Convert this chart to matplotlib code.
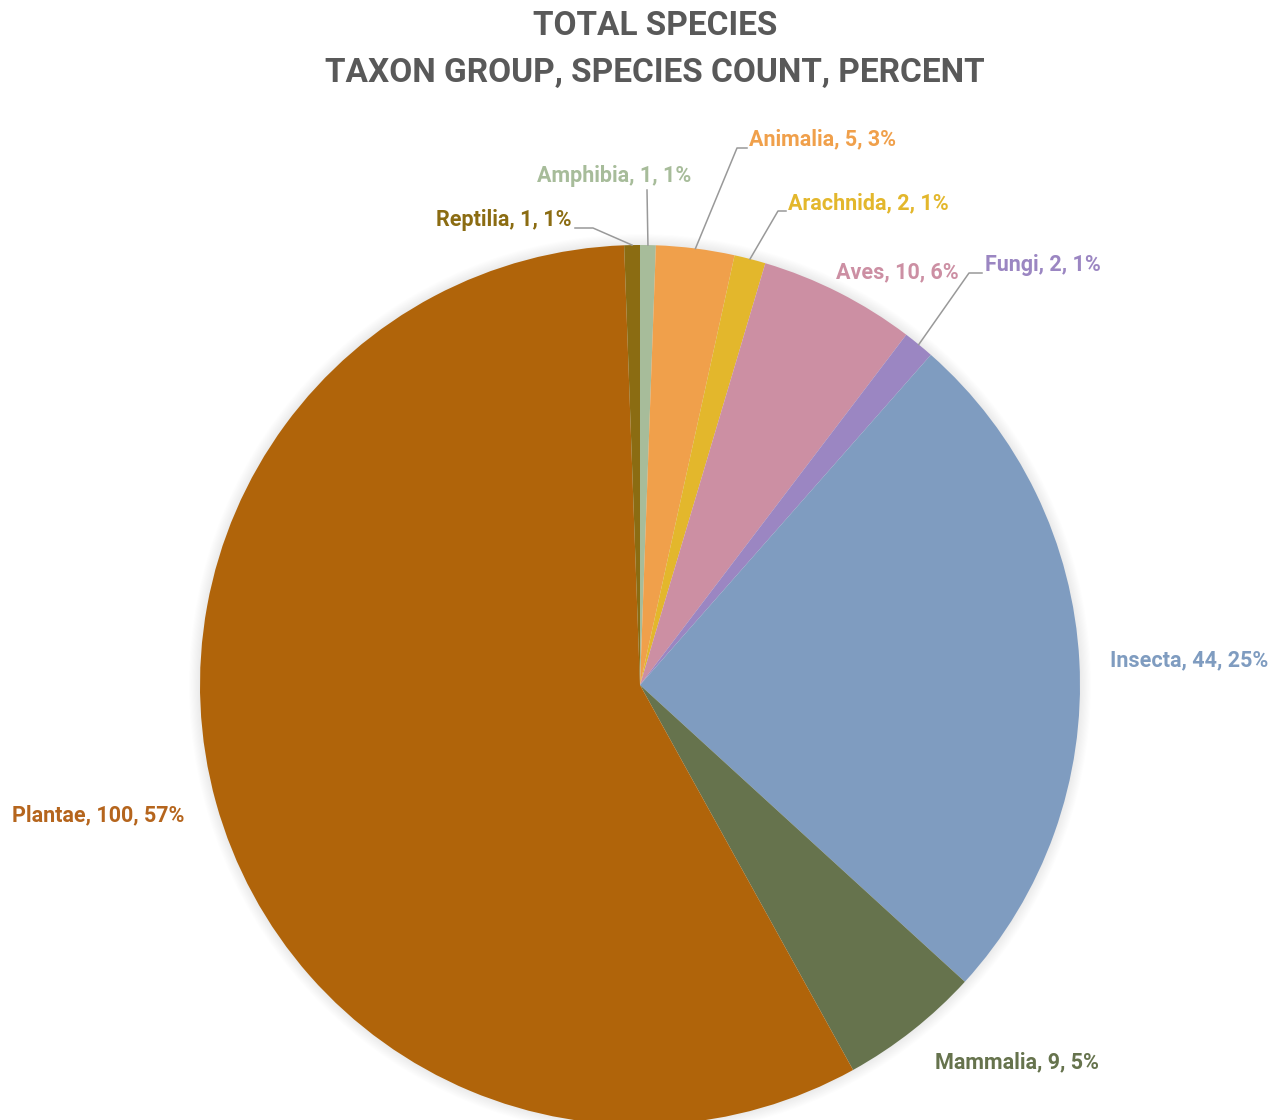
import matplotlib
matplotlib.use("Agg")
import matplotlib.pyplot as plt
import numpy as np
from matplotlib.patches import Circle

# slices in drawing order (clockwise from 12 o'clock)
taxa = ["Amphibia", "Animalia", "Arachnida", "Aves", "Fungi",
        "Insecta", "Mammalia", "Plantae", "Reptilia"]
counts = [1, 5, 2, 10, 2, 44, 9, 100, 1]
colors = ["#a7bc9a", "#f0a04b", "#e3b72c", "#cc8fa3", "#9b86c2",
          "#7f9cc0", "#66734d", "#b0640a", "#8b6c12"]
text_colors = ["#a7bc9a", "#f0a04b", "#e3b72c", "#cc8fa3", "#9b86c2",
               "#7f9cc0", "#66734d", "#b5651d", "#8b6c12"]

W, H = 1281, 1120
CX, CY, R = 640, 685, 440  # pie centre / radius in pixels


def px(x, y):
    # pixel position (from top-left) -> pie data coords
    return (x - CX) / R, (CY - y) / R


plt.rcParams['font.family'] = ['Roboto', 'DejaVu Sans']

fig = plt.figure(figsize=(W / 100, H / 100), dpi=100)
ax = fig.add_axes([(CX - R) / W, (H - CY - R) / H, 2 * R / W, 2 * R / H])

# soft shadow round the pie
for k in range(10):
    ax.add_patch(Circle((0, 0), 1 + 0.0025 * (k + 1), color="#000000",
                        alpha=0.008, lw=0, zorder=0, clip_on=False))

wedges, _ = ax.pie(counts, colors=colors, startangle=90, counterclock=False,
                   radius=1, wedgeprops=dict(linewidth=0, zorder=1))
for w in wedges:
    w.set_clip_on(False)
ax.set_xlim(-1, 1)
ax.set_ylim(-1, 1)
ax.axis("off")

total = sum(counts)
labels = [f"{t}, {c}, {round(100 * c / total)}%" for t, c in zip(taxa, counts)]

# label anchors in pixels: (x, y, ha), plus optional leader elbow
label_pos = {
    "Amphibia": (614, 176, "center"),
    "Animalia": (749, 139, "left"),
    "Arachnida": (788, 203, "left"),
    "Aves": (836, 272, "left"),
    "Fungi": (985, 265, "left"),
    "Insecta": (1110, 660, "left"),
    "Mammalia": (935, 1062, "left"),
    "Plantae": (12, 815, "left"),
    "Reptilia": (572, 220, "right"),
}
leaders = {
    "Amphibia": [(647, 190)],
    "Animalia": [(737, 148), (747, 148)],
    "Arachnida": [(778, 211), (786, 211)],
    "Fungi": [(969, 273), (982, 273)],
    "Reptilia": [(593, 228), (575, 228)],
}

cum = np.cumsum([0] + counts)
for i, t in enumerate(taxa):
    x, y, ha = label_pos[t]
    tx, ty = px(x, y)
    ax.text(tx, ty, labels[i], color=text_colors[i], fontsize=15.5,
            fontweight="bold", ha=ha, va="center", clip_on=False)
    if t in leaders:
        mid = 90 - (cum[i] + cum[i + 1]) / 2 / total * 360
        a = np.radians(mid)
        pts = [(np.cos(a), np.sin(a))] + [px(*p) for p in leaders[t]]
        xs, ys = zip(*pts)
        ax.plot(xs, ys, color="#999999", lw=1.1, zorder=3, clip_on=False)

fig.text(655 / W, 1 - 26 / H, "TOTAL SPECIES", ha="center", va="center",
         fontsize=24, fontweight="bold", color="#595959")
fig.text(655 / W, 1 - 73 / H, "TAXON GROUP, SPECIES COUNT, PERCENT",
         ha="center", va="center", fontsize=24, fontweight="bold",
         color="#595959")

fig.savefig("out.png", dpi=100)
